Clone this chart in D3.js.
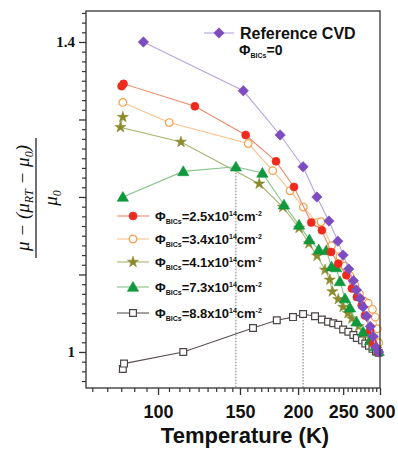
<!DOCTYPE html>
<html><head><meta charset="utf-8">
<script src="https://cdn.jsdelivr.net/npm/d3@7"></script>
<style>body{margin:0;background:#fff}svg{display:block}</style>
</head><body><svg id="c" width="398" height="453"></svg>
<script>
// ---- data (Temperature in K, normalized mobility) ----
const refT  = [93, 152.5, 183, 205, 219.5, 233, 243.5, 250, 257, 263, 267, 272, 276, 281, 286, 290, 294, 298];
const refV  = [1.400, 1.337, 1.280, 1.239, 1.200, 1.169, 1.143, 1.125, 1.107, 1.092, 1.080, 1.069, 1.058, 1.046, 1.033, 1.020, 1.006, 1.000];
const s25T  = [83.5, 84.3, 120, 154.3, 179.3, 196, 213.5, 225, 235.5, 244, 254, 261, 267.5, 274, 278.5, 285.6, 290.2, 297];
const s25V  = [1.343, 1.346, 1.317, 1.280, 1.246, 1.213, 1.167, 1.157, 1.129, 1.114, 1.099, 1.082, 1.071, 1.060, 1.047, 1.028, 1.011, 1.000];
const s34T  = [84, 105.7, 156.3, 176.4, 192.2, 205.3, 219.5, 224, 236, 246, 252, 259, 265, 271, 277, 283, 289, 293, 296, 298];
const s34V  = [1.322, 1.296, 1.269, 1.234, 1.208, 1.187, 1.167, 1.168, 1.137, 1.123, 1.111, 1.098, 1.086, 1.075, 1.066, 1.063, 1.055, 1.045, 1.030, 1.012];
const s41T  = [84, 83, 112, 165, 185.5, 201, 211, 219.7, 228.5, 234, 237, 244, 250, 256, 261, 270, 280, 288, 295];
const s41V  = [1.303, 1.290, 1.271, 1.217, 1.187, 1.160, 1.140, 1.124, 1.106, 1.093, 1.078, 1.068, 1.058, 1.050, 1.043, 1.033, 1.022, 1.012, 1.004];
const s73T  = [84, 113.3, 147, 167.6, 186.5, 201, 211.5, 221.5, 230, 236, 241.5, 246, 252.3, 258.6, 267, 276, 285.6, 293, 298];
const s73V  = [1.200, 1.233, 1.239, 1.231, 1.190, 1.164, 1.145, 1.132, 1.131, 1.110, 1.109, 1.091, 1.069, 1.057, 1.039, 1.026, 1.015, 1.007, 1.001];
const s88T  = [84, 84.5, 113.3, 160, 180, 195, 205, 217.5, 225, 232, 238, 244, 250, 256.5, 263, 267.5, 274.5, 279, 284, 289, 294, 298];
const s88V  = [0.978, 0.985, 1.000, 1.031, 1.041, 1.045, 1.049, 1.046, 1.042, 1.039, 1.037, 1.035, 1.029, 1.026, 1.022, 1.018, 1.015, 1.011, 1.008, 1.004, 1.001, 0.999];
const fluences = ["2.5", "3.4", "4.1", "7.3", "8.8"];
const xTickVals = [100, 150, 200, 250, 300];
const yTickVals = [1, 1.1, 1.2, 1.3, 1.4];
const yTickLabels = ["1", "", "", "", "1.4"];
const peakT = [147, 205];
const peakV = [1.239, 1.049];

const series = [
  {T:s88T, V:s88V, sym:'square',   fill:'#fff',    stroke:'#4d4545', line:'#5a5252'},
  {T:s41T, V:s41V, sym:'star',     fill:'#8b8b2e', stroke:'#8b8b2e', line:'#a9b472'},
  {T:s73T, V:s73V, sym:'triangle', fill:'#10983c', stroke:'#10983c', line:'#86c48a'},
  {T:s34T, V:s34V, sym:'ocircle',  fill:'#fff',    stroke:'#f4a04a', line:'#f8c28e'},
  {T:s25T, V:s25V, sym:'circle',   fill:'#ee2a1e', stroke:'#ee2a1e', line:'#f28a6e'},
  {T:refT, V:refV, sym:'diamond',  fill:'#7d4cc0', stroke:'#7d4cc0', line:'#b9a2e0'}
];
const legendOrder = [4, 3, 1, 2, 0];

const svg = d3.select('#c');
const L = 86, R = 380, T0 = 11, B = 388;
const x = d3.scaleLog().domain([70, 300]).range([L, R]);
const y = d3.scaleLinear().domain([0.9535, 1.44]).range([B, T0]);

function symPath(type) {
  const m = {square:[d3.symbolSquare,46], star:[d3.symbolStar,38], triangle:[d3.symbolTriangle,56],
             ocircle:[d3.symbolCircle,46], circle:[d3.symbolCircle,50], diamond:[d3.symbolSquare,54]};
  const [s, a] = m[type];
  return d3.symbol(s, a)();
}
function drawSym(g, s, px, py) {
  g.append('path').attr('d', symPath(s.sym))
    .attr('transform', `translate(${px},${py})` + (s.sym === 'diamond' ? ' rotate(45)' : '') + (s.sym==='triangle' ? ' translate(0,1)' : ''))
    .attr('fill', s.fill).attr('stroke', s.stroke)
    .attr('stroke-width', (s.sym === 'ocircle' || s.sym === 'square') ? 1.2 : 0.6);
}

// dashed guide lines
peakT.forEach((t, i) => {
  svg.append('line').attr('x1', x(t)).attr('x2', x(t)).attr('y1', y(peakV[i])).attr('y2', B)
    .attr('stroke', '#777').attr('stroke-width', 1).attr('stroke-dasharray', '1.5,1.5');
});

// series
series.forEach(s => {
  const pts = s.T.map((t, i) => [x(t), y(s.V[i])]);
  svg.append('path').attr('d', d3.line()(pts)).attr('fill', 'none')
    .attr('stroke', s.line).attr('stroke-width', 1.1);
  const g = svg.append('g');
  pts.forEach(p => drawSym(g, s, p[0], p[1]));
});

// frame
svg.append('rect').attr('x', L).attr('y', T0).attr('width', R - L).attr('height', B - T0)
  .attr('fill', 'none').attr('stroke', '#333').attr('stroke-width', 1.3);

// x axis
const xMinor = [];
for (let k = -6; k <= 36; k++) { const t = 100 + k * 50 / 9; if (k % 9 !== 0 && t > 70 && t < 300) xMinor.push(t); }
svg.append('g').attr('transform', `translate(0,${B})`)
  .call(d3.axisBottom(x).tickValues(xMinor).tickSize(4).tickFormat(''))
  .call(g => g.select('.domain').remove())
  .call(g => g.selectAll('line').attr('stroke', '#333').attr('stroke-width', 1.2));
svg.append('g').attr('transform', `translate(0,${B})`)
  .call(d3.axisBottom(x).tickValues(xTickVals).tickSize(7).tickPadding(10).tickFormat(d3.format('d')))
  .call(g => g.select('.domain').remove())
  .call(g => g.selectAll('line').attr('stroke', '#333').attr('stroke-width', 1.3))
  .call(g => g.selectAll('text').attr('font-family', 'Liberation Sans, Arial, sans-serif')
      .attr('font-weight', 'bold').attr('font-size', 18).attr('fill', '#111'));

// y axis
const yMinor = [];
for (let k = -3; k <= 35; k++) { const v = 1 + k * 0.0125; if (k % 8 !== 0 && v > 0.9535 && v < 1.44) yMinor.push(v); }
svg.append('g').attr('transform', `translate(${L},0)`)
  .call(d3.axisLeft(y).tickValues(yMinor).tickSize(4).tickFormat(''))
  .call(g => g.select('.domain').remove())
  .call(g => g.selectAll('line').attr('stroke', '#333').attr('stroke-width', 1.2));
svg.append('g').attr('transform', `translate(${L},0)`)
  .call(d3.axisLeft(y).tickValues(yTickVals).tickSize(7).tickPadding(4).tickFormat((d, i) => yTickLabels[i]))
  .call(g => g.select('.domain').remove())
  .call(g => g.selectAll('line').attr('stroke', '#333').attr('stroke-width', 1.3))
  .call(g => g.selectAll('text').attr('font-family', 'Liberation Serif, Times New Roman, serif')
      .attr('font-weight', 'bold').attr('font-size', 15).attr('fill', '#111'));

// x title
svg.append('text').attr('x', 245).attr('y', 443).attr('text-anchor', 'middle')
  .attr('font-family', 'Liberation Sans, Arial, sans-serif').attr('font-weight', 'bold')
  .attr('font-size', 22).attr('fill', '#111').text('Temperature (K)');

// y title (fraction)
const yl = svg.append('g').attr('transform', 'translate(0,198) rotate(-90)')
  .attr('font-family', 'Liberation Serif, Times New Roman, serif').attr('font-style', 'italic').attr('fill', '#111');
const num = yl.append('text').attr('x', 0).attr('y', 29).attr('text-anchor', 'middle').attr('font-size', 19);
num.append('tspan').text('μ − (μ');
num.append('tspan').attr('font-size', 12).attr('dy', 4).text('RT');
num.append('tspan').attr('dy', -4).text(' − μ');
num.append('tspan').attr('font-size', 12).attr('dy', 4).text('0');
num.append('tspan').attr('dy', -4).text(')');
yl.append('line').attr('x1', -60).attr('x2', 60).attr('y1', 36).attr('y2', 36).attr('stroke', '#111').attr('stroke-width', 1.2);
const den = yl.append('text').attr('x', 0).attr('y', 57).attr('text-anchor', 'middle').attr('font-size', 19);
den.append('tspan').text('μ');
den.append('tspan').attr('font-size', 12).attr('dy', 4).text('0');

// top legend (reference)
const refS = series[5];
svg.append('line').attr('x1', 204).attr('x2', 234).attr('y1', 33).attr('y2', 33).attr('stroke', refS.line).attr('stroke-width', 1.1);
drawSym(svg, refS, 219, 33);
svg.append('text').attr('x', 240).attr('y', 39).attr('font-family', 'Liberation Sans, Arial, sans-serif')
  .attr('font-weight', 'bold').attr('font-size', 16).attr('fill', '#111').text('Reference CVD');
const r2 = svg.append('text').attr('x', 239).attr('y', 55).attr('font-family', 'Liberation Sans, Arial, sans-serif')
  .attr('font-weight', 'bold').attr('font-size', 14).attr('fill', '#111');
r2.append('tspan').text('Φ');
r2.append('tspan').attr('font-size', 7).attr('dy', 3).text('BICs');
r2.append('tspan').attr('dy', -3).text('=0');

// bottom legend
const legY = [216, 239, 262, 287, 313];
legendOrder.forEach((si, i) => {
  const s = series[si];
  const yy = legY[i];
  svg.append('line').attr('x1', 117).attr('x2', 149).attr('y1', yy).attr('y2', yy).attr('stroke', s.line).attr('stroke-width', 1.1);
  drawSym(svg, s, 133, yy);
  const t = svg.append('text').attr('x', 155).attr('y', yy + 5).attr('font-family', 'Liberation Sans, Arial, sans-serif')
    .attr('font-weight', 'bold').attr('font-size', 13).attr('fill', '#111');
  t.append('tspan').text('Φ');
  t.append('tspan').attr('font-size', 7).attr('dy', 3).text('BICs');
  t.append('tspan').attr('dy', -3).text('=' + fluences[i] + 'x10');
  t.append('tspan').attr('font-size', 7).attr('dy', -5).text('14');
  t.append('tspan').attr('dy', 5).text('cm');
  t.append('tspan').attr('font-size', 7).attr('dy', -5).text('-2');
});
</script></body></html>
